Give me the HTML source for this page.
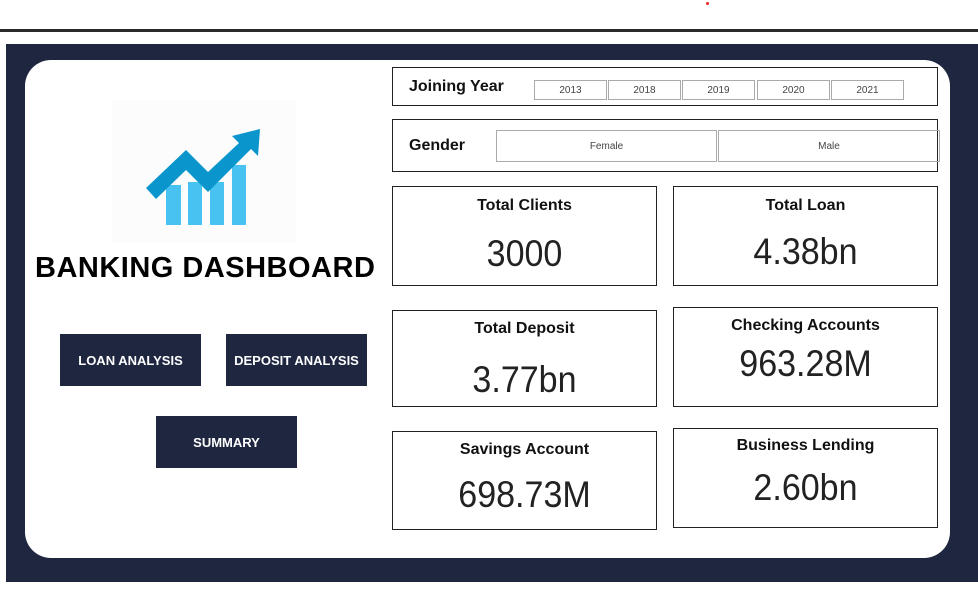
<!DOCTYPE html>
<html><head><meta charset="utf-8"><style>
body{margin:0;width:978px;height:596px;background:#fff;position:relative;overflow:hidden;font-family:"Liberation Sans",sans-serif}
.a{position:absolute;box-sizing:border-box}
.card{border:1.5px solid #222;background:#fff;text-align:center;color:#111}
.card .t{font-weight:bold;font-size:16px;position:absolute;width:100%;left:0}
.card .v{font-size:37px;position:absolute;width:100%;left:0;color:#222;transform:scaleX(0.92)}
.btn{background:#1e2640;color:#fff;font-weight:bold;font-size:13px;display:flex;align-items:center;justify-content:center}
.chip{border:1px solid #aaa;font-size:10px;color:#444;display:flex;align-items:center;justify-content:center}
</style></head><body>
<div class="a" style="left:0;top:29px;width:978px;height:3px;background:#2a2a2a"></div>
<div class="a" style="left:706px;top:2px;width:3px;height:3px;background:#e22;border-radius:50%"></div>
<div class="a" style="left:6px;top:44px;width:972px;height:538px;background:#1e2640"></div>
<div class="a" style="left:25px;top:60px;width:925px;height:498px;background:#fff;border-radius:26px"></div>

<div class="a" style="left:112px;top:100px;width:184px;height:143px;background:#fcfcfc">
<svg width="184" height="143" viewBox="0 0 184 143">
<rect x="54" y="85" width="15" height="40" fill="#48c2f0"/>
<rect x="76" y="82" width="14" height="43" fill="#48c2f0"/>
<rect x="98" y="82" width="14" height="43" fill="#48c2f0"/>
<rect x="120" y="65" width="14" height="60" fill="#48c2f0"/>
<polygon points="34,88 74,50 96,72 127,43 120,36 148,29 146,56 139,49 96,92 74,70 44,99" fill="#0a95cc"/>
</svg></div>
<div class="a" style="left:35px;top:252px;font-size:29px;font-weight:bold;color:#000;letter-spacing:0.5px">BANKING DASHBOARD</div>

<div class="a btn" style="left:60px;top:334px;width:141px;height:52px">LOAN ANALYSIS</div>
<div class="a btn" style="left:226px;top:334px;width:141px;height:52px">DEPOSIT ANALYSIS</div>
<div class="a btn" style="left:156px;top:416px;width:141px;height:52px">SUMMARY</div>

<div class="a card" style="left:392px;top:67px;width:546px;height:39px">
<div class="a" style="left:16px;top:10px;font-weight:bold;font-size:16px">Joining Year</div>
<div class="a chip" style="left:141px;top:12px;width:73px;height:20px">2013</div>
<div class="a chip" style="left:215px;top:12px;width:73px;height:20px">2018</div>
<div class="a chip" style="left:289px;top:12px;width:73px;height:20px">2019</div>
<div class="a chip" style="left:364px;top:12px;width:73px;height:20px">2020</div>
<div class="a chip" style="left:438px;top:12px;width:73px;height:20px">2021</div>
</div>
<div class="a card" style="left:392px;top:119px;width:546px;height:53px">
<div class="a" style="left:16px;top:17px;font-weight:bold;font-size:16px">Gender</div>
<div class="a chip" style="left:103px;top:10px;width:221px;height:32px">Female</div>
<div class="a chip" style="left:325px;top:10px;width:222px;height:32px">Male</div>
</div>

<div class="a card" style="left:392px;top:186px;width:265px;height:100px"><div class="t" style="top:10px">Total Clients</div><div class="v" style="top:46px">3000</div></div>
<div class="a card" style="left:673px;top:186px;width:265px;height:100px"><div class="t" style="top:10px">Total Loan</div><div class="v" style="top:44px">4.38bn</div></div>
<div class="a card" style="left:392px;top:310px;width:265px;height:97px"><div class="t" style="top:9px">Total Deposit</div><div class="v" style="top:48px">3.77bn</div></div>
<div class="a card" style="left:673px;top:307px;width:265px;height:100px"><div class="t" style="top:9px">Checking Accounts</div><div class="v" style="top:35px">963.28M</div></div>
<div class="a card" style="left:392px;top:431px;width:265px;height:99px"><div class="t" style="top:9px">Savings Account</div><div class="v" style="top:42px">698.73M</div></div>
<div class="a card" style="left:673px;top:428px;width:265px;height:100px"><div class="t" style="top:8px">Business Lending</div><div class="v" style="top:38px">2.60bn</div></div>
</body></html>
